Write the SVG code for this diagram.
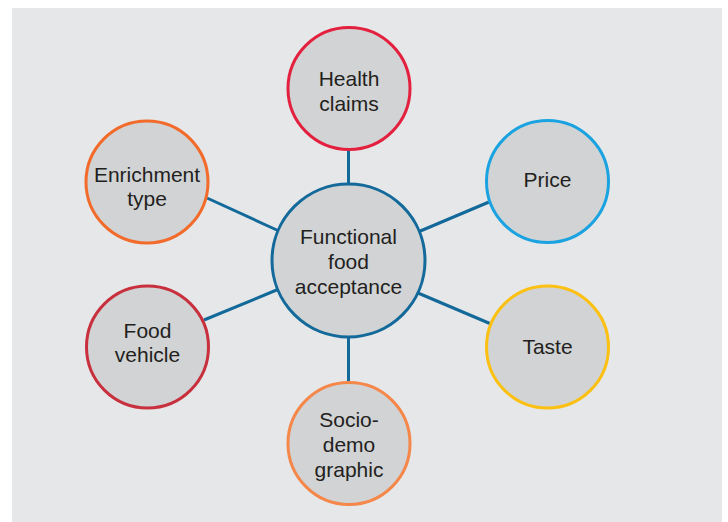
<svg xmlns="http://www.w3.org/2000/svg" width="728" height="522" viewBox="0 0 728 522">
<style>
.bg{fill:#e6e7e8}
.n{fill:#d1d3d4;stroke-width:3}
.t{font-family:"Liberation Sans",Arial,sans-serif;font-size:21px;fill:#231f20;text-anchor:middle}
.c{stroke:#12699a;stroke-width:3;fill:none}
</style>
<rect width="728" height="522" fill="#ffffff"/>
<rect class="bg" x="12" y="8" width="710" height="514"/>
<g id="connectors">
<line class="c" x1="348.5" y1="149" x2="348.5" y2="185"/>
<line class="c" x1="348.5" y1="336" x2="348.5" y2="383"/>
<line class="c" x1="207" y1="198" x2="279" y2="231"/>
<line class="c" x1="204" y1="320" x2="279" y2="289"/>
<line class="c" x1="418" y1="232" x2="489" y2="202"/>
<line class="c" x1="418" y1="293" x2="491" y2="324"/>
</g>
<g id="center">
<circle class="n" cx="348.5" cy="260.5" r="76.5" stroke="#12699a"/>
<text class="t" x="348.5" y="244">Functional</text>
<text class="t" x="348.5" y="269">food</text>
<text class="t" x="348.5" y="294">acceptance</text>
</g>
<g id="health">
<circle class="n" cx="349" cy="88.5" r="61" stroke="#e4203f"/>
<text class="t" x="349" y="86">Health</text>
<text class="t" x="349" y="111">claims</text>
</g>
<g id="price">
<circle class="n" cx="547.5" cy="181.5" r="61" stroke="#1ba3e1"/>
<text class="t" x="547.5" y="187">Price</text>
</g>
<g id="taste">
<circle class="n" cx="547.5" cy="347" r="61" stroke="#fcc012"/>
<text class="t" x="547.5" y="354">Taste</text>
</g>
<g id="sociodemo">
<circle class="n" cx="349" cy="443.5" r="61" stroke="#f5874a"/>
<text class="t" x="349" y="427">Socio-</text>
<text class="t" x="349" y="452">demo</text>
<text class="t" x="349" y="477">graphic</text>
</g>
<g id="foodvehicle">
<circle class="n" cx="147.5" cy="347" r="61" stroke="#c8303e"/>
<text class="t" x="147.5" y="338">Food</text>
<text class="t" x="147.5" y="362">vehicle</text>
</g>
<g id="enrichment">
<circle class="n" cx="147" cy="182" r="61" stroke="#f26b2a"/>
<text class="t" x="147" y="182">Enrichment</text>
<text class="t" x="147" y="206">type</text>
</g>
</svg>
